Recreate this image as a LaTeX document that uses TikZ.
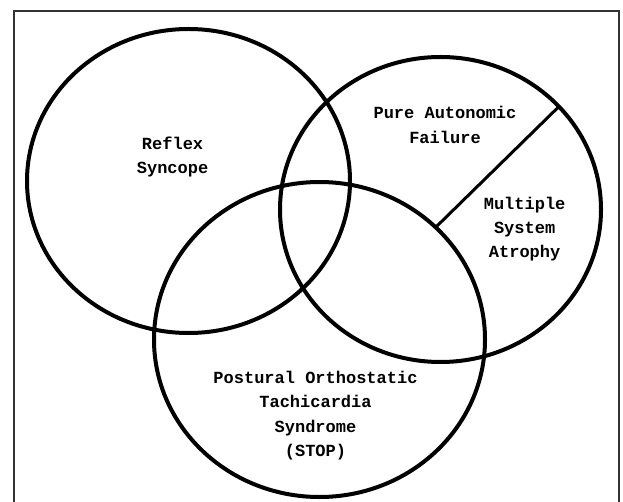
\documentclass[tikz,border=0pt]{standalone}
\usepackage{fontspec}
\newfontfamily\labelfont{Liberation Mono}
\usetikzlibrary{shapes.geometric}
\tikzset{
  venn/.style={ellipse, draw, line width=4pt, inner sep=0pt, outer sep=0pt},
  lbl/.style={align=center, font=\labelfont\bfseries\fontsize{17}{24.3}\selectfont, inner sep=0pt},
  frameline/.style={draw=black!80, line width=1.5pt}
}
\begin{document}
\begin{tikzpicture}[x=1pt,y=-1pt]
\useasboundingbox (0,0) rectangle (623,502);
\draw[frameline] (14,502) -- (14,11) -- (619,11) -- (619,502);
\node[venn, minimum width=323pt, minimum height=304pt] (rs) at (188.5,181) {};
\node[venn, minimum width=321pt, minimum height=305pt] (paf) at (440.5,209.5) {};
\node[venn, minimum width=331pt, minimum height=315pt] (pots) at (319.5,339.5) {};
\draw[line width=3pt] (paf.41.3) -- (pots.44.3);
\node[lbl] (t1) at (172.6,157) {Reflex\\Syncope};
\node[lbl] (t2) at (445,125) {Pure Autonomic\\Failure};
\node[lbl] (t3) at (524.6,229) {Multiple\\System\\Atrophy};
\node[lbl] (t4) at (315.5,415.5) {Postural Orthostatic\\Tachicardia\\Syndrome\\(STOP)};
\end{tikzpicture}
\end{document}
